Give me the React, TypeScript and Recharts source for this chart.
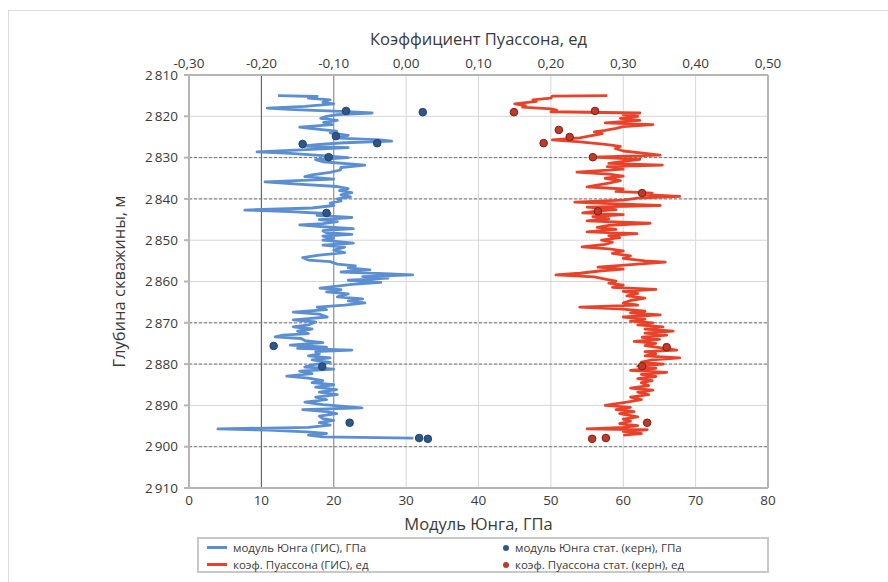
import React from 'react';
import {
  ScatterChart, Scatter, XAxis, YAxis, CartesianGrid, ReferenceLine,
} from 'recharts';

// ---- tick labels / axes ----
const depthTicks = [2810, 2820, 2830, 2840, 2850, 2860, 2870, 2880, 2890, 2900, 2910];
const youngTicks = [0, 10, 20, 30, 40, 50, 60, 70, 80];
const poissonTicks = [-0.3, -0.2, -0.1, 0, 0.1, 0.2, 0.3, 0.4, 0.5];

// ---- Young's modulus (GIS log), GPa ----
const youngDepth = [
  2815.0, 2815.2, 2815.6, 2816.0, 2816.6, 2817.0, 2817.6, 2818.0, 2818.4, 2818.8,
  2819.2, 2819.6, 2820.0, 2820.5, 2821.0, 2821.5, 2822.0, 2822.6, 2823.0, 2823.6,
  2824.0, 2824.6, 2825.2, 2825.7, 2826.0, 2826.4, 2826.8, 2827.2, 2827.6, 2828.0,
  2828.6, 2829.0, 2829.5, 2830.0, 2830.5, 2831.0, 2831.8, 2832.4, 2833.0, 2833.6,
  2834.2, 2834.6, 2835.2, 2835.9, 2836.4, 2837.0, 2837.5, 2838.0, 2838.5, 2839.0,
  2839.5, 2840.0, 2840.5, 2841.0, 2841.6, 2842.2, 2842.7, 2843.1, 2843.6, 2844.0,
  2844.5, 2845.0, 2845.5, 2846.0, 2846.3, 2846.8, 2847.2, 2847.7, 2848.2, 2848.6,
  2849.0, 2849.5, 2850.0, 2850.7, 2851.2, 2851.7, 2852.4, 2853.0, 2853.6, 2854.2,
  2854.8, 2855.2, 2855.8, 2856.2, 2856.7, 2857.2, 2857.7, 2858.1, 2858.4, 2858.8,
  2859.2, 2859.7, 2860.2, 2860.7, 2861.1, 2861.6, 2862.0, 2862.5, 2863.0, 2863.7,
  2864.2, 2864.7, 2865.2, 2865.7, 2866.2, 2866.8, 2867.4, 2867.9, 2868.6, 2869.0,
  2869.3, 2869.8, 2870.5, 2871.0, 2871.5, 2872.0, 2872.6, 2873.0, 2873.4, 2873.8,
  2874.3, 2874.8, 2875.4, 2875.9, 2876.2, 2876.6, 2877.0, 2877.5, 2878.0, 2878.5,
  2879.0, 2879.6, 2880.2, 2880.7, 2881.2, 2881.7, 2882.3, 2882.9, 2883.4, 2884.0,
  2884.5, 2885.0, 2885.6, 2886.2, 2886.8, 2887.4, 2888.0, 2888.6, 2889.2, 2889.8,
  2890.6, 2891.0, 2891.5, 2892.0, 2892.6, 2893.2, 2893.6, 2894.2, 2894.8, 2895.3,
  2895.7, 2896.0, 2896.4, 2896.8, 2897.2, 2897.6, 2897.9,
];
const youngValue = [
  12.3, 17.7, 16.5, 19.5, 18.5, 20.0, 16.0, 10.8, 14.5, 21.0,
  25.3, 20.5, 19.0, 18.2, 20.5, 18.6, 19.8, 15.3, 17.0, 20.4,
  19.5, 22.0, 20.0, 26.4, 28.0, 21.5, 18.0, 15.5, 22.0, 17.0,
  9.4, 14.0, 18.5, 22.0, 17.5, 18.5, 24.3, 21.0, 20.9, 19.5,
  17.0, 16.0, 20.0, 10.5, 15.0, 20.5, 22.0, 20.8, 22.5, 21.0,
  22.3, 20.5, 21.0, 19.5, 20.0, 17.0, 7.7, 14.0, 19.5, 17.7,
  22.5, 18.0, 20.5, 18.5, 15.3, 19.0, 22.7, 18.5, 19.0, 22.5,
  18.5, 20.0, 18.5, 22.7, 18.5, 21.5, 20.0, 21.5, 18.0, 15.7,
  16.5, 19.5, 20.5, 23.0, 22.0, 25.0, 21.0, 27.0, 30.9, 24.0,
  27.5, 22.0, 26.5, 22.5, 20.5, 18.1, 21.0, 19.0, 22.0, 20.5,
  24.0, 22.0, 24.3, 21.5, 17.7, 19.0, 14.4, 18.0, 19.1, 16.5,
  14.4, 17.5, 16.5, 14.4, 17.0, 15.0, 16.5, 13.0, 11.9, 15.5,
  16.0, 18.5, 14.0, 19.0, 15.0, 22.5, 17.5, 18.0, 16.5, 19.5,
  17.0, 19.5, 17.0, 16.0, 20.0, 15.3, 17.0, 13.5, 16.5, 18.5,
  17.0, 20.0, 17.5, 20.4, 18.0, 20.5, 17.5, 19.0, 16.0, 18.5,
  23.9, 15.7, 19.0, 20.4, 18.0, 18.5, 20.0, 18.0, 19.5, 16.5,
  4.0, 11.0, 16.3, 19.0, 16.5, 18.5, 31.0,
];

// ---- Poisson's ratio (GIS log) ----
const poissonDepth = [
  2815.0, 2815.1, 2815.6, 2816.0, 2816.4, 2817.0, 2817.4, 2817.8, 2818.2, 2818.5,
  2818.9, 2819.2, 2819.6, 2820.0, 2820.5, 2821.0, 2821.6, 2822.0, 2822.5, 2822.9,
  2823.4, 2823.8, 2824.2, 2824.6, 2825.2, 2825.7, 2826.2, 2826.8, 2827.3, 2827.8,
  2828.4, 2829.0, 2829.4, 2829.9, 2830.4, 2830.9, 2831.4, 2831.8, 2832.2, 2832.8,
  2833.5, 2834.0, 2834.5, 2835.0, 2835.6, 2836.2, 2837.1, 2837.6, 2838.2, 2838.6,
  2839.0, 2839.4, 2839.8, 2840.3, 2840.8, 2841.2, 2841.6, 2842.0, 2842.6, 2843.0,
  2843.4, 2843.8, 2844.3, 2844.8, 2845.3, 2845.9, 2846.4, 2846.9, 2847.4, 2848.0,
  2848.4, 2848.9, 2849.4, 2850.0, 2850.5, 2851.0, 2851.6, 2852.1, 2852.6, 2853.2,
  2853.8, 2854.4, 2855.0, 2855.3, 2855.8, 2856.5, 2857.0, 2857.4, 2858.0, 2858.4,
  2858.9, 2859.4, 2859.9, 2860.4, 2860.9, 2861.4, 2861.9, 2862.4, 2862.9, 2863.5,
  2864.0, 2864.6, 2865.2, 2865.7, 2866.2, 2866.7, 2867.2, 2867.6, 2868.1, 2868.6,
  2869.1, 2869.6, 2870.0, 2870.5, 2871.0, 2871.5, 2872.0, 2872.5, 2873.0, 2873.5,
  2874.0, 2874.5, 2875.0, 2875.5, 2876.0, 2876.6, 2877.0, 2877.5, 2878.0, 2878.5,
  2879.0, 2879.5, 2880.0, 2880.5, 2881.0, 2881.5, 2882.0, 2882.5, 2883.0, 2883.5,
  2884.0, 2884.5, 2885.2, 2885.8, 2886.3, 2886.8, 2887.4, 2888.0, 2888.6, 2889.2,
  2890.0, 2890.5, 2891.0, 2891.5, 2892.0, 2892.8, 2893.3, 2893.8, 2894.4, 2894.9,
  2895.3, 2895.7, 2895.9, 2896.3, 2896.8, 2897.2,
];
const poissonValue = [
  0.278, 0.202, 0.200, 0.175, 0.180, 0.150, 0.165, 0.161, 0.200, 0.208,
  0.200, 0.323, 0.300, 0.320, 0.296, 0.323, 0.275, 0.341, 0.300, 0.290,
  0.275, 0.260, 0.271, 0.258, 0.240, 0.202, 0.240, 0.275, 0.296, 0.289,
  0.300, 0.330, 0.351, 0.258, 0.323, 0.300, 0.280, 0.354, 0.278, 0.300,
  0.236, 0.280, 0.300, 0.275, 0.296, 0.280, 0.250, 0.300, 0.290, 0.340,
  0.330, 0.378, 0.320, 0.300, 0.233, 0.290, 0.351, 0.250, 0.290, 0.260,
  0.244, 0.300, 0.258, 0.280, 0.250, 0.337, 0.280, 0.264, 0.290, 0.250,
  0.319, 0.280, 0.295, 0.270, 0.285, 0.275, 0.243, 0.280, 0.300, 0.285,
  0.310, 0.300, 0.330, 0.358, 0.320, 0.265, 0.300, 0.270, 0.240, 0.207,
  0.260, 0.275, 0.290, 0.280, 0.300, 0.285, 0.345, 0.300, 0.320, 0.305,
  0.330, 0.310, 0.300, 0.320, 0.240, 0.300, 0.330, 0.310, 0.351, 0.300,
  0.330, 0.310, 0.341, 0.320, 0.355, 0.330, 0.369, 0.330, 0.360, 0.326,
  0.350, 0.315, 0.345, 0.330, 0.350, 0.374, 0.330, 0.345, 0.330, 0.378,
  0.340, 0.325, 0.355, 0.320, 0.345, 0.310, 0.360, 0.325, 0.345, 0.320,
  0.340, 0.325, 0.335, 0.310, 0.341, 0.320, 0.335, 0.310, 0.325, 0.305,
  0.275, 0.310, 0.290, 0.315, 0.295, 0.320, 0.300, 0.310, 0.295, 0.320,
  0.300, 0.250, 0.333, 0.300, 0.325, 0.300,
];

// ---- core (static) measurements ----
const youngCoreDepth = [2818.7, 2819.0, 2824.8, 2826.5, 2826.7, 2829.9, 2843.4, 2875.6, 2880.6, 2894.2, 2897.9, 2898.1];
const youngCoreValue = [21.7, 32.3, 20.3, 26.0, 15.7, 19.3, 19.0, 11.7, 18.4, 22.2, 31.8, 33.0];
const poissonCoreDepth = [2819.0, 2818.7, 2823.3, 2825.0, 2826.5, 2829.9, 2838.6, 2843.0, 2875.9, 2880.5, 2894.2, 2898.1, 2897.9];
const poissonCoreValue = [0.149, 0.261, 0.211, 0.226, 0.190, 0.258, 0.326, 0.265, 0.360, 0.326, 0.333, 0.257, 0.276];

const seriesNames = [
  'модуль Юнга (ГИС), ГПа',
  'коэф. Пуассона (ГИС), ед',
  'модуль Юнга стат. (керн), ГПа',
  'коэф. Пуассона стат. (керн), ед',
];

const BLUE = '#5b8fd1';
const RED = '#e8432a';
const BLUE_DOT = '#2e5688';
const RED_DOT = '#c0392b';
const FONT = "'Open Sans', 'Noto Sans', sans-serif";
const STRETCH = '88%';
const TEXT = '#3a3a3a';

const zip = (d: number[], v: number[]) => d.map((depth, i) => ({ d: depth, x: v[i] }));
const youngData = zip(youngDepth, youngValue);
const poissonData = zip(poissonDepth, poissonValue);
const youngCore = zip(youngCoreDepth, youngCoreValue);
const poissonCore = zip(poissonCoreDepth, poissonCoreValue);

const fmtDepth = (v: number) => `${Math.floor(v / 1000)}\u2009${String(v % 1000).padStart(3, '0')}`;
const fmtPoisson = (v: number) => (Math.abs(v) < 1e-9 ? 0 : v).toFixed(2).replace('.', ',');

const NoShape = () => <g />;

const makeDot = (fill: string, stroke: string) => (props: any) => {
  const { cx, cy } = props;
  if (cx == null || cy == null) return <g />;
  return <circle cx={cx} cy={cy} r={3.8} fill={fill} stroke={stroke} strokeWidth={1} />;
};

const LegendBox = () => (
  <div
    style={{
      position: 'absolute', left: 197, top: 537, width: 572, height: 36,
      border: '2px solid #c8c8c8', boxSizing: 'border-box', fontFamily: FONT,
      fontStretch: STRETCH, fontSize: 11.5, color: TEXT,
    }}
  >
    {[0, 1].map((row) => (
      <React.Fragment key={row}>
        <div style={{ position: 'absolute', left: 8, top: 1 + row * 17, display: 'flex', alignItems: 'center', whiteSpace: 'nowrap' }}>
          <span style={{ display: 'inline-block', width: 20, height: 3, background: row === 0 ? BLUE : RED, marginRight: 6 }} />
          {seriesNames[row]}
        </div>
        <div style={{ position: 'absolute', left: 304, top: 1 + row * 17, display: 'flex', alignItems: 'center', whiteSpace: 'nowrap' }}>
          <span style={{ display: 'inline-block', width: 6, height: 6, borderRadius: 3, background: row === 0 ? BLUE_DOT : RED_DOT, marginRight: 6 }} />
          {seriesNames[row + 2]}
        </div>
      </React.Fragment>
    ))}
  </div>
);

export default function App() {
  const tickStyle = { fontSize: 13.5, fill: TEXT, fontFamily: FONT, fontStretch: STRETCH };
  const titleStyle = { fontSize: 16.5, fill: TEXT, fontFamily: FONT, fontStretch: STRETCH };
  return (
    <div style={{ position: 'absolute', left: 0, top: 0, width: 888, height: 582, background: '#fff', fontFamily: FONT }}>
      <div style={{ position: 'absolute', left: 8, top: 10, width: 890, height: 600, border: '1px solid #dcdcdc', boxSizing: 'border-box' }} />
      <ScatterChart
        width={888}
        height={582}
        margin={{ top: 45, right: 120, bottom: 64, left: 129 }}
        style={{ position: 'absolute', left: 0, top: 0 }}
      >
        <CartesianGrid stroke="#d6d6d6" strokeWidth={1} xAxisId="bottom" />
        <XAxis
          xAxisId="bottom"
          orientation="bottom"
          type="number"
          dataKey="x"
          domain={[0, 80]}
          ticks={youngTicks}
          height={30}
          tickLine={false}
          tickSize={0}
          tickMargin={7}
          stroke="#b5b5b5"
          strokeWidth={2}
          tick={tickStyle}
          label={{ value: 'Модуль Юнга, ГПа', position: 'insideBottom', offset: -12, style: titleStyle }}
        />
        <XAxis
          xAxisId="top"
          orientation="top"
          type="number"
          dataKey="x"
          domain={[-0.3, 0.5]}
          ticks={poissonTicks}
          tickFormatter={fmtPoisson}
          height={30}
          tickLine={false}
          tickSize={0}
          tickMargin={7}
          stroke="#b5b5b5"
          strokeWidth={2}
          tick={tickStyle}
          label={{ value: 'Коэффициент Пуассона, ед', position: 'insideTop', offset: -12, style: titleStyle }}
        />
        <YAxis
          type="number"
          dataKey="d"
          domain={[2810, 2910]}
          ticks={depthTicks}
          reversed
          width={60}
          tickFormatter={fmtDepth}
          tickSize={5}
          tickMargin={6}
          stroke="#b5b5b5"
          strokeWidth={2}
          tick={tickStyle}
          label={{ value: 'Глубина скважины, м', angle: -90, position: 'insideLeft', offset: -10, style: { ...titleStyle, textAnchor: 'middle' } }}
        />
        <ReferenceLine xAxisId="bottom" x={10} stroke="#555" strokeWidth={1} />
        <ReferenceLine xAxisId="bottom" x={20} stroke="#888" strokeWidth={1} />
        <ReferenceLine xAxisId="bottom" x={80} stroke="#b5b5b5" strokeWidth={2} />
        {[2830, 2840, 2870, 2880, 2900].map((d) => (
          <ReferenceLine key={d} xAxisId="bottom" y={d} stroke="#777" strokeWidth={1} strokeDasharray="3 2" />
        ))}
        <Scatter
          name={seriesNames[0]}
          data={youngData}
          xAxisId="bottom"
          line={{ stroke: BLUE, strokeWidth: 2.8, strokeLinejoin: 'round' }}
          lineJointType="linear"
          shape={NoShape}
          isAnimationActive={false}
        />
        <Scatter
          name={seriesNames[1]}
          data={poissonData}
          xAxisId="top"
          line={{ stroke: RED, strokeWidth: 2.8, strokeLinejoin: 'round' }}
          lineJointType="linear"
          shape={NoShape}
          isAnimationActive={false}
        />
        <Scatter
          name={seriesNames[2]}
          data={youngCore}
          xAxisId="bottom"
          shape={makeDot(BLUE_DOT, '#22446e')}
          isAnimationActive={false}
        />
        <Scatter
          name={seriesNames[3]}
          data={poissonCore}
          xAxisId="top"
          shape={makeDot(RED_DOT, '#7a2418')}
          isAnimationActive={false}
        />
      </ScatterChart>
      <LegendBox />
    </div>
  );
}
